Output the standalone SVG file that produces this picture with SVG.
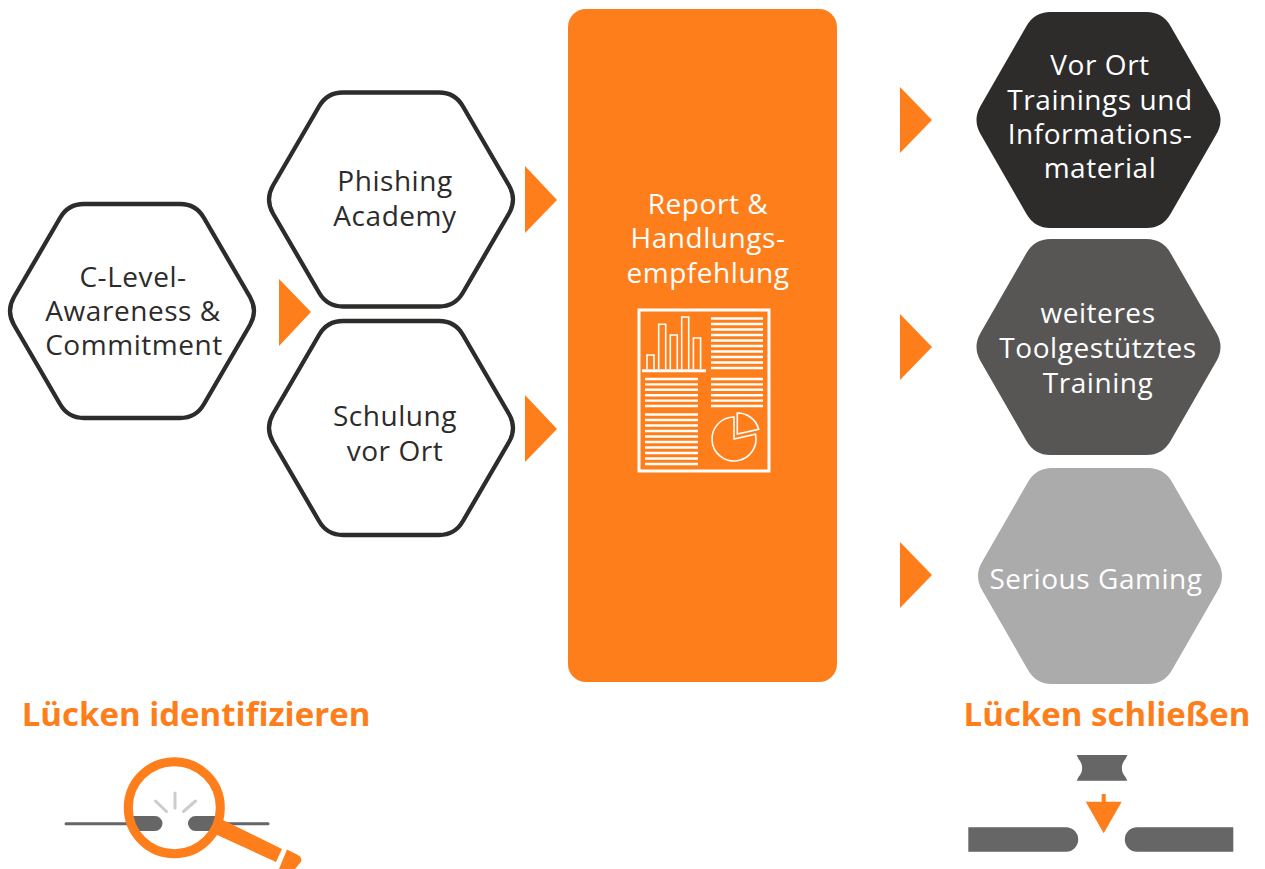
<svg xmlns="http://www.w3.org/2000/svg" width="1265" height="869" viewBox="0 0 1265 869">
<style>
text{font-family:"Open Sans","Noto Sans","DejaVu Sans",sans-serif;font-size:28px;text-anchor:middle;letter-spacing:.55px}
.dk{fill:#2d2c2b}.wh{fill:#fff}
.out{fill:#fff;stroke:#2d2c2b;stroke-width:4.3}
.ttl{font-size:33px;font-weight:700;fill:#fd7e1a;letter-spacing:0}
.or{fill:#fd7e1a}.gr{fill:#666}
.ln{stroke:#fff;stroke-width:2.4}
.bar{fill:none;stroke:#fff;stroke-width:1.6}
</style>
<defs>
<path id="hex" d="M-118,-14 L-72,-93 Q-64,-107 -48,-107 L48,-107 Q64,-107 72,-93 L118,-14 Q126,0 118,14 L72,93 Q64,107 48,107 L-48,107 Q-64,107 -72,93 L-118,14 Q-126,0 -118,-14Z"/>
<path id="hexf" d="M-118,-14 L-72,-94 Q-64,-108 -48,-108 L48,-108 Q64,-108 72,-94 L118,-14 Q126,0 118,14 L72,94 Q64,108 48,108 L-48,108 Q-64,108 -72,94 L-118,14 Q-126,0 -118,-14Z"/>
</defs>
<g id="connectors" class="or">
<polygon points="279,279 311,312 279,346"/>
<polygon points="525,166 557,200 525,233"/>
<polygon points="525,395 557,429 525,462"/>
<polygon points="900,87 932,120 900,153"/>
<polygon points="900,314 932,347 900,380"/>
<polygon points="900,542 932,575 900,608"/>
</g>
<g id="node-clevel">
<use href="#hex" class="out" x="132" y="311"/>
<text class="dk" x="133" y="287">C-Level-</text>
<text class="dk" x="133" y="321">Awareness &amp;</text>
<text class="dk" x="134" y="355">Commitment</text>
</g>
<g id="node-phishing">
<use href="#hex" class="out" x="391" y="199.500"/>
<text class="dk" x="395" y="191">Phishing</text>
<text class="dk" x="395" y="226">Academy</text>
</g>
<g id="node-schulung">
<use href="#hex" class="out" x="391" y="428"/>
<text class="dk" x="395" y="426">Schulung</text>
<text class="dk" x="395" y="461">vor Ort</text>
</g>
<g id="node-report">
<rect x="568" y="9" width="269" height="673" rx="18" class="or"/>
<text class="wh" x="708" y="214">Report &amp;</text>
<text class="wh" x="708" y="248">Handlungs-</text>
<text class="wh" x="708" y="283">empfehlung</text>
<rect x="639" y="310" width="130" height="161" fill="none" stroke="#fff" stroke-width="3"/>
<path class="ln" d="M711,318.500H763M711,324H763M711,329.500H763M711,335H763M711,340.500H763M711,346H763M711,351.500H763M711,357H763M711,362.500H763M711,368H763M711,379H763M711,384.400H763M711,389.800H763M711,395.200H763M711,400.600H763M711,406H763M645,379H698M645,384.400H698M645,389.800H698M645,395.200H698M645,400.600H698M645,406H698M645,414.500H698M645,420H698M645,425.500H698M645,431H698M645,436.500H698M645,442H698M645,447.500H698M645,453H698M645,458.500H698M645,464H698"/>
<path d="M642,370.700H706" stroke="#fff" stroke-width="3"/>
<path class="bar" d="M647,369V355H654V369M658.700,369V324.300H665.700V369M670.300,369V335H677.300V369M681.700,369V317H688.700V369M693.400,369V338H700.600V369"/>
<path class="bar" d="M734,417V439L755.500,434.300A22,22 0 1 1 734,417Z"/>
<path class="bar" d="M737.300,413V434L758.700,429.300A22,22 0 0 0 737.300,413Z"/>
</g>
<g id="node-training">
<use href="#hexf" fill="#2d2c2b" x="1098.500" y="120"/>
<text class="wh" x="1100" y="75">Vor Ort</text>
<text class="wh" x="1100" y="110">Trainings und</text>
<text class="wh" x="1100" y="144">Informations-</text>
<text class="wh" x="1100" y="178">material</text>
</g>
<g id="node-tool">
<use href="#hexf" fill="#575655" x="1098.500" y="347"/>
<text class="wh" x="1098" y="323">weiteres</text>
<text class="wh" x="1098" y="358">Toolgestütztes</text>
<text class="wh" x="1098" y="393">Training</text>
</g>
<g id="node-gaming">
<use href="#hexf" fill="#ababab" x="1100" y="576"/>
<text class="wh" x="1096" y="589">Serious Gaming</text>
</g>
<g id="title-left"><text class="ttl" x="196" y="726">Lücken identifizieren</text></g>
<g id="title-right"><text class="ttl" x="1107" y="726">Lücken schließen</text></g>
<g id="icon-left">
<path d="M66,823.700H268" stroke="#666" stroke-width="3" stroke-linecap="round"/>
<circle cx="174.300" cy="807.700" r="46" fill="#fff"/>
<path class="gr" d="M130,816H155A7.500,7.500 0 0 1 155,831H135ZM216,816H195.500A7.500,7.500 0 0 0 195.500,831H216Z"/>
<path d="M175,793V808M155.500,801L166.500,811.500M195.500,801L183.500,811.500" stroke="#ccc" stroke-width="3" stroke-linecap="round"/>
<circle cx="174.300" cy="807.700" r="46" fill="none" stroke="#fd7e1a" stroke-width="9"/>
<polygon class="or" points="223,820 282,849 276,862 215,834"/>
<path class="or" d="M287,849.500L297,854.500Q304,858 300,863L295,869H279Z"/>
</g>
<g id="icon-right">
<path class="gr" d="M1076.700,755H1127.300L1125.500,759A13,13 0 0 0 1125.500,777L1127.300,780.700H1076.700L1078.500,777A13,13 0 0 0 1078.500,759Z"/>
<polygon class="or" points="1101.700,794 1105.700,794 1105.700,801.700 1121.700,801.700 1103.700,833.300 1085.700,801.700 1101.700,801.700"/>
<path class="gr" d="M968.300,827.300H1066A12.200,12.200 0 0 1 1066,851.700H968.300Z"/>
<path class="gr" d="M1233.300,827.300H1137A12.200,12.200 0 0 0 1137,851.700H1233.300Z"/>
</g>
</svg>
